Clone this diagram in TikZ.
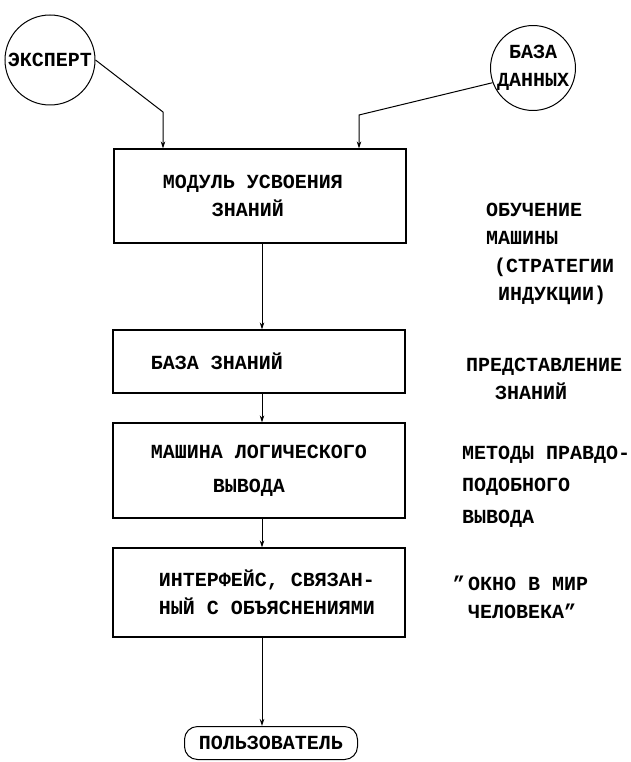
\documentclass[tikz,border=0pt]{standalone}
\usepackage{fontspec}
\setmainfont{Liberation Mono}
\usetikzlibrary{arrows.meta}

\begin{document}
\begin{tikzpicture}[x=1pt, y=-1pt,
    font={\fontsize{20}{28}\selectfont\bfseries},
    blok/.style={draw, line width=1.2pt, minimum width=292pt, align=center, inner sep=0pt},
    krug/.style={draw, circle, line width=1pt, inner sep=0pt, align=center},
    svyaz/.style={line width=1pt, -{Stealth[length=7pt,width=4.5pt]}},
    primech/.style={anchor=north west, align=left, inner sep=0pt}]
  \useasboundingbox (0,0) rectangle (630,762);
  % sources
  \node[krug, minimum size=90pt] (expert) at (50,60) {ЭКСПЕРТ};
  \node[krug, minimum size=78pt] (dannye) at (533,68) {БАЗА\\ДАННЫХ};
  % main column
  \node[blok, minimum height=94pt] (usvoenie) at (260,196) {МОДУЛЬ УСВОЕНИЯ\hspace*{14pt}\\ЗНАНИЙ\hspace*{24pt}};
  \node[blok, minimum height=63pt] (baza) at (259,361.5) {БАЗА ЗНАНИЙ\hspace*{84pt}};
  \node[blok, minimum height=95pt] (vyvod) at (259,470.5) {МАШИНА ЛОГИЧЕСКОГО\\[6pt]ВЫВОДА\hspace*{20pt}};
  \node[blok, minimum height=89pt] (interfejs) at (259,592.5) {\hspace*{16pt}ИНТЕРФЕЙС, СВЯЗАН-\\\hspace*{16pt}НЫЙ С ОБЪЯСНЕНИЯМИ};
  \node[draw, line width=1pt, rounded corners=13pt, inner sep=4pt,
        minimum height=33pt, minimum width=173pt] (polz) at (271,743) {ПОЛЬЗОВАТЕЛЬ};
  % connectors
  \coordinate (e1) at (163,112);
  \coordinate (d1) at (359,115);
  \coordinate (os) at (262,0);
  \draw[svyaz] (expert.east) -- (e1) -- (e1 |- usvoenie.north);
  \draw[svyaz] (dannye.200) -- (d1) -- (d1 |- usvoenie.north);
  \draw[svyaz] (os |- usvoenie.south) -- (os |- baza.north);
  \draw[svyaz] (os |- baza.south) -- (os |- vyvod.north);
  \draw[svyaz] (os |- vyvod.south) -- (os |- interfejs.north);
  \draw[svyaz] (os |- interfejs.south) -- (os |- polz.north);
  % notes on the right
  \node[primech] (obuch) at (486,203) {ОБУЧЕНИЕ\\МАШИНЫ\\\hspace*{8pt}(СТРАТЕГИИ\\\hspace*{12pt}ИНДУКЦИИ)};
  \node[primech] (predst) at (466,358) {ПРЕДСТАВЛЕНИЕ\\\hspace*{29pt}ЗНАНИЙ};
  \node[primech] (metody) at (462,446) {МЕТОДЫ ПРАВДО-\\[4pt]ПОДОБНОГО\\[4pt]ВЫВОДА};
  \node[primech] (okno) at (468,576) {\llap{"\,}ОКНО В МИР\\ЧЕЛОВЕКА"};
\end{tikzpicture}
\end{document}
